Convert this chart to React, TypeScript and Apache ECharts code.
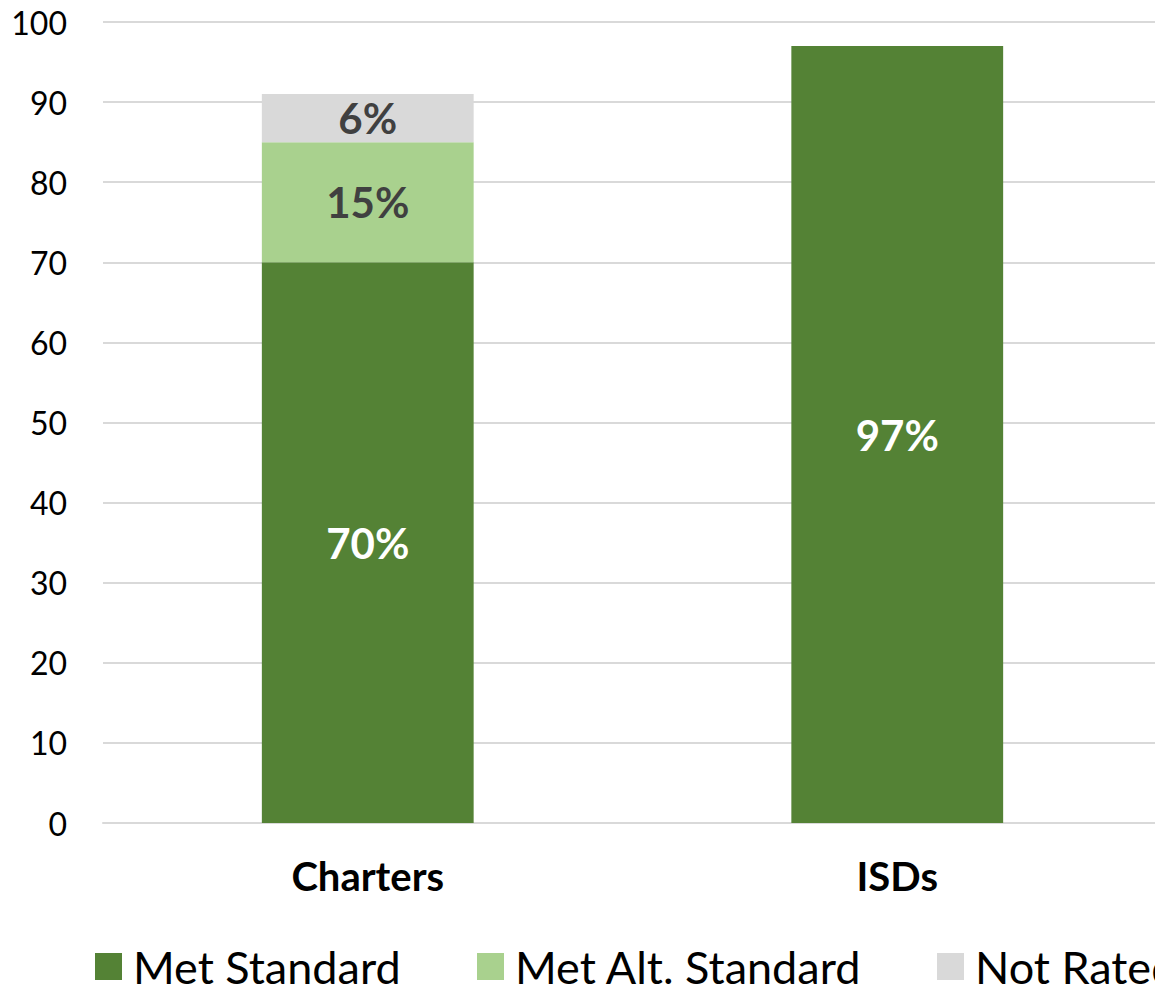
import React, { useEffect, useRef } from "react";
import * as echarts from "echarts";

const categories = ["Charters", "ISDs"];
const seriesNames = ["Met Standard", "Met Alt. Standard", "Not Rated"];
const metStandard = [70, 97];
const metAltStandard = [15, null];
const notRated = [6, null];
const yTicks = { min: 0, max: 100, interval: 10 };

const COLORS = ["#548235", "#A9D18E", "#D9D9D9"];
const LABEL_COLORS = ["#FFFFFF", "#404040", "#404040"];
const FONT = "Lato, 'Liberation Sans', sans-serif";

export default function App() {
  const ref = useRef<HTMLDivElement>(null);

  useEffect(() => {
    if (!ref.current) return;
    const chart = echarts.init(ref.current, null, { renderer: "svg" });
    const values = [metStandard, metAltStandard, notRated];
    const legendLefts = [95, 477, 937];

    chart.setOption({
      animation: false,
      textStyle: { fontFamily: FONT },
      grid: { left: 103, right: 0, top: 22, bottom: 165, containLabel: false },
      legend: seriesNames.map((name, i) => ({
        data: [name],
        left: legendLefts[i],
        top: 944,
        padding: 0,
        icon: "rect",
        itemWidth: 27,
        itemHeight: 27,
        selectedMode: false,
        textStyle: {
          fontFamily: FONT,
          fontSize: 45,
          lineHeight: 40,
          color: "#000000",
          padding: [0, 0, 0, 6],
        },
      })),
      xAxis: {
        type: "category",
        data: categories,
        axisLine: { show: true, lineStyle: { color: "#D9D9D9", width: 2 } },
        axisTick: { show: false },
        axisLabel: {
          margin: 33,
          fontFamily: FONT,
          fontSize: 40,
          fontWeight: "bold",
          color: "#000000",
        },
      },
      yAxis: {
        type: "value",
        min: yTicks.min,
        max: yTicks.max,
        interval: yTicks.interval,
        axisLine: { show: false },
        axisTick: { show: false },
        splitLine: { lineStyle: { color: "#D9D9D9", width: 2 } },
        axisLabel: {
          margin: 36,
          fontFamily: FONT,
          fontSize: 32,
          color: "#000000",
        },
      },
      series: seriesNames.map((name, i) => ({
        name,
        type: "bar",
        stack: "total",
        barWidth: "40%",
        data: values[i],
        itemStyle: { color: COLORS[i] },
        label: {
          show: true,
          position: "inside",
          formatter: "{c}%",
          fontFamily: FONT,
          fontSize: 42,
          fontWeight: "bold",
          color: LABEL_COLORS[i],
        },
      })),
    });

    return () => chart.dispose();
  }, []);

  return (
    <div
      style={{
        position: "fixed",
        left: 0,
        top: 0,
        width: 1155,
        height: 988,
        overflow: "hidden",
        background: "#fff",
      }}
    >
      <div ref={ref} style={{ width: 1162, height: 988 }} />
    </div>
  );
}
